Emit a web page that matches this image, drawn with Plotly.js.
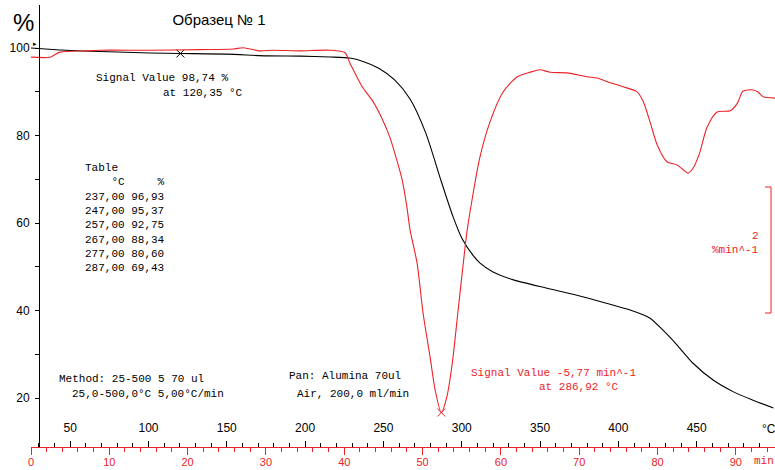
<!DOCTYPE html>
<html>
<head>
<meta charset="utf-8">
<script src="https://cdn.plot.ly/plotly-3.0.1.min.js"></script>
<style>html,body{margin:0;padding:0;background:#fff;}#chart{width:775px;height:470px;}</style>
</head>
<body>
<div id="chart"></div>
<script>
// TG curve (black): time in min, mass in %
const tgTime = [0, 3.7, 6.6, 11.0, 15.2, 19.07, 25.0, 30.1, 34.4, 38.2, 40.7, 42.4, 44.4, 46.4, 48.4, 50.4, 52.4, 53.9, 55.0, 56.4, 57.3, 59.0, 61.6, 65.9, 69.7, 73.0, 76.5, 79.0, 80.7, 82.5, 84.5, 87.1, 89.7, 92.2, 94.8];
const tgPct  = [100.0, 99.55, 99.3, 99.1, 98.85, 98.74, 98.6, 98.2, 98.15, 97.95, 97.7, 96.93, 95.37, 92.75, 88.34, 80.60, 69.43, 61.4, 56.6, 52.7, 50.9, 48.8, 47.0, 45.1, 43.5, 41.9, 40.1, 38.3, 35.5, 32.1, 28.0, 24.1, 21.4, 19.5, 17.7];

// DTG curve (red): time in min, rate in %/min
const dtgTime = [0, 2.4, 3.7, 7.2, 8.8, 15.2, 21.6, 25.8, 27.1, 29.2, 30.9, 34.4, 38.2, 40.1, 40.7, 41.6, 42.4, 43.7, 44.8, 45.85, 46.7, 47.4, 48.0, 48.4, 49.3, 50.06, 50.96, 51.6, 52.384, 53.1, 53.8, 54.5, 55.2, 55.7, 57.3, 58.6, 60.3, 62.1, 63.7, 65.0, 66.3, 68.45, 71.0, 72.3, 73.6, 75.6, 77.4, 78.2, 79.05, 79.95, 81.2, 82.5, 83.3, 83.9, 84.55, 85.4, 86.3, 87.6, 89.3, 90.2, 90.9, 92.2, 92.8, 93.5, 95.0];
const dtgVal  = [-0.13, -0.13, -0.05, -0.03, -0.02, -0.02, -0.01, 0.0, 0.02, -0.03, -0.02, -0.03, -0.02, -0.06, -0.22, -0.44, -0.62, -0.84, -1.10, -1.41, -1.76, -2.08, -2.51, -2.87, -3.40, -4.19, -4.89, -5.41, -5.77, -5.52, -4.98, -4.19, -3.40, -2.87, -1.73, -1.16, -0.68, -0.44, -0.37, -0.33, -0.37, -0.38, -0.44, -0.46, -0.52, -0.60, -0.68, -0.84, -1.16, -1.52, -1.79, -1.84, -1.92, -1.97, -1.89, -1.64, -1.25, -1.00, -0.98, -0.86, -0.67, -0.65, -0.68, -0.76, -0.78];

// Marked signal values
const tgMarkTime = [19.07], tgMarkVal = [98.74];
const dtgMarkTime = [52.384], dtgMarkVal = [-5.77];

// Tick labels
const yTicks = [20, 40, 60, 80, 100];
const tempTicks = [50, 100, 150, 200, 250, 300, 350, 400, 450];

const tableLines = ['Table', '    °C     %', '237,00 96,93', '247,00 95,37', '257,00 92,75', '267,00 88,34', '277,00 80,60', '287,00 69,43'];

const RED = '#ec2227';
const MONO = 'Liberation Mono, Courier New, monospace';
const SANS = 'Liberation Sans, Arial, sans-serif';

// pixel -> paper helpers (plot area: x 31..775, y 5..447)
const px = x => (x - 31) / 744;
const py = y => (447 - y) / 442;
const nb = s => s.replace(/ /g, '\u00a0');

function txt(text, left, cy, color, opts) {
  return Object.assign({
    text: nb(text), xref: 'paper', yref: 'paper', x: px(left), y: py(cy),
    xanchor: 'left', yanchor: 'middle', showarrow: false, align: 'left',
    font: {family: MONO, size: 11, color: color || '#000'}, borderpad: 0
  }, opts || {});
}

const traces = [
  {x: tgTime, y: tgPct, xaxis: 'x', yaxis: 'y', mode: 'lines', line: {color: '#000', width: 1.1, shape: 'spline', smoothing: 0.7}, hoverinfo: 'skip'},
  {x: dtgTime, y: dtgVal, xaxis: 'x', yaxis: 'y2', mode: 'lines', line: {color: RED, width: 1.1, shape: 'spline', smoothing: 0.7}, hoverinfo: 'skip'},
  {x: tgMarkTime, y: tgMarkVal, xaxis: 'x', yaxis: 'y', mode: 'markers', marker: {symbol: 'x-thin-open', size: 8, color: '#000', line: {width: 1, color: '#000'}}},
  {x: dtgMarkTime, y: dtgMarkVal, xaxis: 'x', yaxis: 'y2', mode: 'markers', marker: {symbol: 'x-thin-open', size: 8, color: RED, line: {width: 1, color: RED}}},
  // invisible trace to activate temperature axis
  {x: [25, 500], y: [50, 50], xaxis: 'x2', yaxis: 'y', mode: 'lines', line: {width: 0}, opacity: 0, hoverinfo: 'skip', showlegend: false}
];

const annotations = [
  txt('%', 12, 23, '#000', {font: {family: SANS, size: 24, color: '#000'}}),
  txt('▸', 32, 43, '#000', {font: {family: SANS, size: 7, color: '#000'}}),
  txt('Signal Value 98,74 %', 95, 78),
  txt('at 120,35 °C', 162, 93),
  Object.assign(txt('', 84, 161), {yanchor: 'top', text: tableLines.map(nb).join('<br>')}),
  txt('Method: 25-500 5 70 ul', 58, 379),
  txt('25,0-500,0°C 5,00°C/min', 71, 394),
  txt('Pan: Alumina 70ul', 288, 376),
  txt('Air, 200,0 ml/min', 296, 394),
  txt('Signal Value -5,77 min^-1', 470, 373, RED),
  txt('at 286,92 °C', 538, 387, RED),
  txt('2', 760, 236, RED, {xanchor: 'right'}),
  txt('%min^-1', 760, 250, RED, {xanchor: 'right'}),
  txt('°C', 769, 429, '#000', {xanchor: 'center', font: {family: SANS, size: 12, color: '#000'}}),
  txt('min', 764, 461, RED, {xanchor: 'center'})
];

const layout = {
  width: 775, height: 470,
  margin: {l: 31, r: 0, t: 5, b: 23},
  paper_bgcolor: '#fff', plot_bgcolor: '#fff',
  showlegend: false,
  title: {text: 'Образец № 1', xref: 'paper', x: px(219), xanchor: 'center', yref: 'container', y: 1 - 20 / 470, yanchor: 'middle', font: {family: SANS, size: 15, color: '#000'}},
  xaxis: {
    range: [0, 95], showgrid: false, zeroline: false,
    showline: true, linecolor: RED, linewidth: 1,
    ticks: 'outside', ticklen: 7, tickcolor: RED, tickwidth: 1,
    dtick: 10, tick0: 0,
    minor: {dtick: 2, ticklen: 4, tickcolor: RED, ticks: 'outside', showgrid: false},
    tickfont: {family: SANS, size: 11, color: RED}, ticklabelstandoff: -2, anchor: 'y'
  },
  xaxis2: {
    range: [25, 500], overlaying: 'x', side: 'bottom', anchor: 'y',
    showgrid: false, zeroline: false, showline: false,
    ticks: 'inside', ticklen: 6, tickcolor: '#000', tickwidth: 1,
    tickmode: 'array', tickvals: tempTicks, ticktext: tempTicks.map(String),
    ticklabelposition: 'inside', ticklabelstandoff: 6,
    minor: {tickmode: 'linear', tick0: 0, dtick: 10, ticklen: 4, tickcolor: '#000', ticks: 'inside', showgrid: false},
    tickfont: {family: SANS, size: 12, color: '#000'}
  },
  yaxis: {
    range: [8.8, 109.83], anchor: 'free', position: px(39),
    showgrid: false, zeroline: false, showline: true, linecolor: '#000', linewidth: 1,
    ticks: 'outside', ticklen: 4, tickcolor: '#000',
    tickmode: 'array', tickvals: yTicks, ticktext: yTicks.map(String),
    minor: {tickmode: 'linear', tick0: 0, dtick: 10, ticklen: 4, tickcolor: '#000', ticks: 'outside', showgrid: false},
    tickfont: {family: SANS, size: 12, color: '#000'}, ticklabelstandoff: 3
  },
  yaxis2: {
    range: [-6.317, 0.698], overlaying: 'y', visible: false, showgrid: false, zeroline: false
  },
  shapes: [
    {type: 'path', xref: 'paper', yref: 'paper',
     path: `M ${px(765)} ${py(187)} L ${px(771)} ${py(187)} L ${px(771)} ${py(313)} L ${px(765)} ${py(313)}`,
     line: {color: RED, width: 1}}
  ],
  annotations: annotations
};

Plotly.newPlot('chart', traces, layout, {staticPlot: true, displayModeBar: false});
</script>
</body>
</html>
